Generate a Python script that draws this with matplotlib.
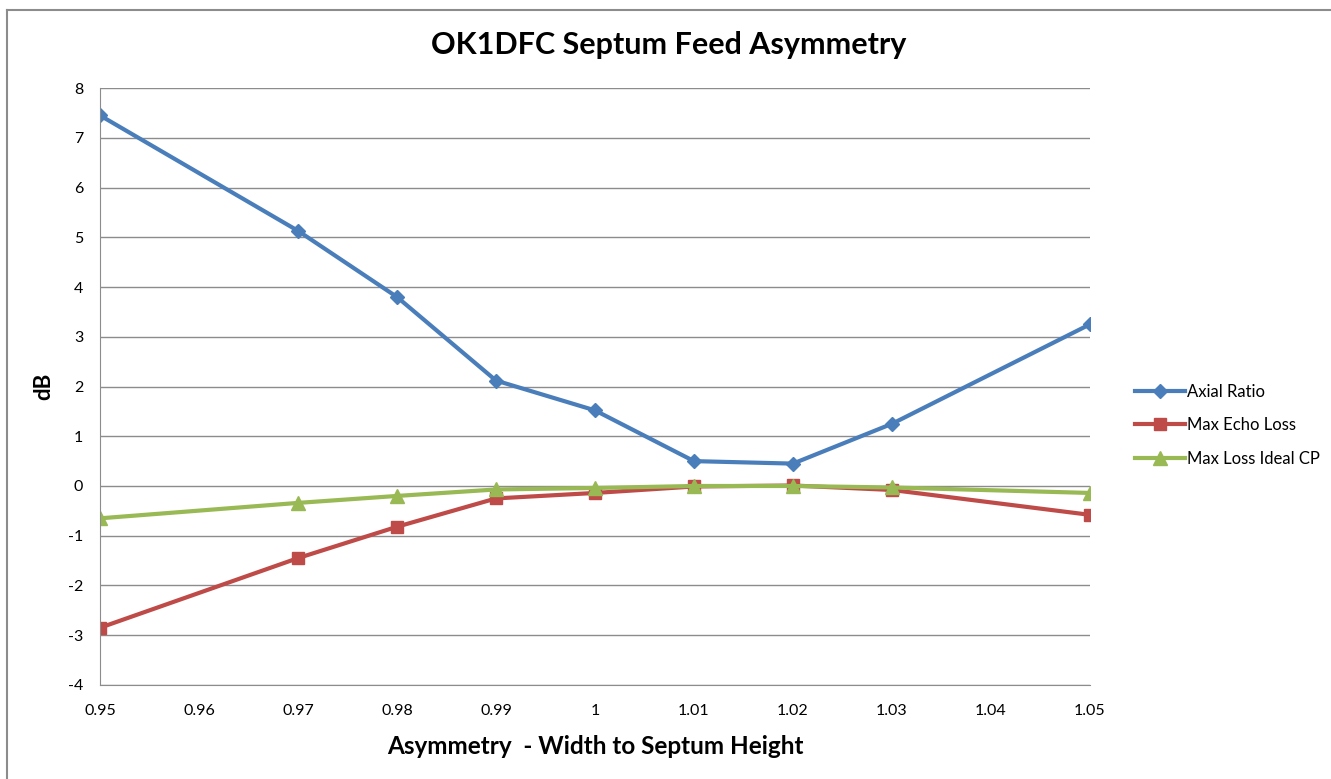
import matplotlib.pyplot as plt
from matplotlib.lines import Line2D
import numpy as np

plt.rcParams['font.family'] = ['Lato', 'DejaVu Sans']
plt.rcParams['axes.unicode_minus'] = False

# data
asym = [0.95, 0.97, 0.98, 0.99, 1.00, 1.01, 1.02, 1.03, 1.05]
axial_ratio = [7.45, 5.13, 3.80, 2.12, 1.52, 0.50, 0.45, 1.25, 3.25]
echo_loss = [-2.85, -1.45, -0.82, -0.25, -0.14, -0.01, 0.01, -0.08, -0.58]
ideal_cp = [-0.65, -0.34, -0.20, -0.07, -0.04, 0.00, 0.00, -0.03, -0.14]

x_ticks = [0.95, 0.96, 0.97, 0.98, 0.99, 1.00, 1.01, 1.02, 1.03, 1.04, 1.05]
x_tick_labels = ["0.95", "0.96", "0.97", "0.98", "0.99", "1", "1.01", "1.02", "1.03", "1.04", "1.05"]

fig = plt.figure(figsize=(13.31, 7.79), dpi=100)
ax = fig.add_axes([0.0751, 0.1207, 0.7438, 0.7663])

ax.plot(asym, axial_ratio, color="#4A7EBB", lw=3, marker="D", ms=7, label="Axial Ratio")
ax.plot(asym, echo_loss, color="#BE4B48", lw=3, marker="s", ms=9, label="Max Echo Loss")
ax.plot(asym, ideal_cp, color="#98B954", lw=3, marker="^", ms=10, label="Max Loss Ideal CP")

ax.set_xlim(0.95, 1.05)
ax.set_ylim(-4, 8)
ax.set_xticks(x_ticks)
ax.set_xticklabels(x_tick_labels)
ax.set_yticks(np.arange(-4, 9, 1))
ax.yaxis.grid(True, color="#8c8c8c", lw=1)
ax.set_axisbelow(True)
ax.tick_params(length=0, labelsize=11.5)
ax.tick_params(axis="x", pad=14)
ax.tick_params(axis="y", pad=12)
for s in ["top", "right"]:
    ax.spines[s].set_visible(False)
for s in ["left", "bottom"]:
    ax.spines[s].set_color("#8c8c8c")

fig.text(669 / 1331, 1 - 45 / 779, "OK1DFC Septum Feed Asymmetry",
         fontsize=22, fontweight="bold", ha="center", va="center")
ax.set_xlabel("Asymmetry  - Width to Septum Height", fontsize=17.5, fontweight="bold", labelpad=12)
ax.set_ylabel("dB", fontsize=16, fontweight="bold", labelpad=10)

ax.legend(loc="center left", bbox_to_anchor=(1.046, 0.4355), frameon=False,
          borderaxespad=0, borderpad=0,
          fontsize=12, handlelength=3.0, labelspacing=1.05, handletextpad=0.1)

# outer chart frame (cropped screenshot: only top and left visible)
fig.add_artist(Line2D([7 / 1331, 1], [1 - 10 / 779, 1 - 10 / 779], color="#8c8c8c", lw=1.5))
fig.add_artist(Line2D([7 / 1331, 7 / 1331], [0, 1 - 10 / 779], color="#8c8c8c", lw=1.5))

fig.savefig("out.png", dpi=100)
